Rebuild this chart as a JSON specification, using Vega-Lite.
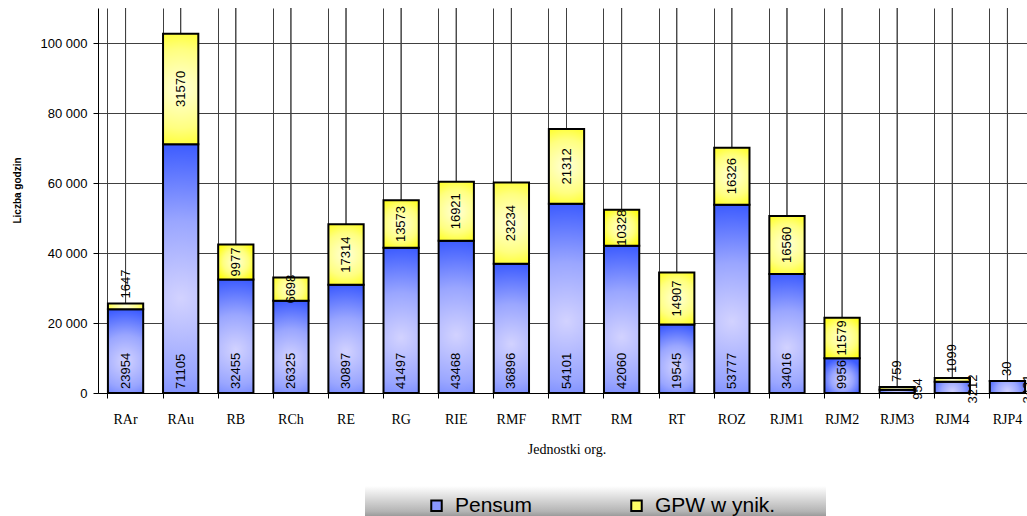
{
  "$schema": "https://vega.github.io/schema/vega-lite/v6.json",
  "width": 937,
  "height": 385,
  "autosize": {"type": "none"},
  "padding": {"left": 98, "top": 8, "right": 0, "bottom": 123},
  "background": "white",
  "config": {
    "view": {"stroke": null},
    "font": "Liberation Sans",
    "axisY": {
      "labelFont": "Liberation Sans", "labelFontSize": 13, "labelColor": "black",
      "tickColor": "black", "tickSize": 5, "labelPadding": 6,
      "domainColor": "black", "gridColor": "#404040", "gridWidth": 1,
      "titleFont": "Liberation Sans", "titleFontSize": 10, "titleFontWeight": "bold", "titleColor": "black", "titlePadding": 18, "titleY": 182
    },
    "axisX": {
      "labelFont": "Liberation Serif", "labelFontSize": 14, "labelColor": "black", "labelAngle": 0,
      "tickColor": "black", "tickSize": 5, "labelPadding": 14,
      "domainColor": "black", "gridColor": "#404040", "gridWidth": 1,
      "titleFont": "Liberation Serif", "titleFontSize": 14, "titleFontWeight": "normal", "titleColor": "black", "titlePadding": 16
    }
  },
  "data": {"values": [
    {"org": "RAr", "series": "Pensum", "order": 1, "value": 23954},
    {"org": "RAr", "series": "GPW w ynik.", "order": 2, "value": 1647},
    {"org": "RAu", "series": "Pensum", "order": 1, "value": 71105},
    {"org": "RAu", "series": "GPW w ynik.", "order": 2, "value": 31570},
    {"org": "RB", "series": "Pensum", "order": 1, "value": 32455},
    {"org": "RB", "series": "GPW w ynik.", "order": 2, "value": 9977},
    {"org": "RCh", "series": "Pensum", "order": 1, "value": 26325},
    {"org": "RCh", "series": "GPW w ynik.", "order": 2, "value": 6698},
    {"org": "RE", "series": "Pensum", "order": 1, "value": 30897},
    {"org": "RE", "series": "GPW w ynik.", "order": 2, "value": 17314},
    {"org": "RG", "series": "Pensum", "order": 1, "value": 41497},
    {"org": "RG", "series": "GPW w ynik.", "order": 2, "value": 13573},
    {"org": "RIE", "series": "Pensum", "order": 1, "value": 43468},
    {"org": "RIE", "series": "GPW w ynik.", "order": 2, "value": 16921},
    {"org": "RMF", "series": "Pensum", "order": 1, "value": 36896},
    {"org": "RMF", "series": "GPW w ynik.", "order": 2, "value": 23234},
    {"org": "RMT", "series": "Pensum", "order": 1, "value": 54101},
    {"org": "RMT", "series": "GPW w ynik.", "order": 2, "value": 21312},
    {"org": "RM", "series": "Pensum", "order": 1, "value": 42060},
    {"org": "RM", "series": "GPW w ynik.", "order": 2, "value": 10328},
    {"org": "RT", "series": "Pensum", "order": 1, "value": 19545},
    {"org": "RT", "series": "GPW w ynik.", "order": 2, "value": 14907},
    {"org": "ROZ", "series": "Pensum", "order": 1, "value": 53777},
    {"org": "ROZ", "series": "GPW w ynik.", "order": 2, "value": 16326},
    {"org": "RJM1", "series": "Pensum", "order": 1, "value": 34016},
    {"org": "RJM1", "series": "GPW w ynik.", "order": 2, "value": 16560},
    {"org": "RJM2", "series": "Pensum", "order": 1, "value": 9956},
    {"org": "RJM2", "series": "GPW w ynik.", "order": 2, "value": 11579},
    {"org": "RJM3", "series": "Pensum", "order": 1, "value": 954},
    {"org": "RJM3", "series": "GPW w ynik.", "order": 2, "value": 759},
    {"org": "RJM4", "series": "Pensum", "order": 1, "value": 3212},
    {"org": "RJM4", "series": "GPW w ynik.", "order": 2, "value": 1099},
    {"org": "RJP4", "series": "Pensum", "order": 1, "value": 3431},
    {"org": "RJP4", "series": "GPW w ynik.", "order": 2, "value": 30}
  ]},
  "transform": [
    {"stack": "value", "groupby": ["org"], "sort": [{"field": "order", "order": "ascending"}], "as": ["v0", "v1"]}
  ],
  "encoding": {
    "x": {
      "field": "org", "type": "nominal",
      "scale": {
        "domain": ["RAr", "RAu", "RB", "RCh", "RE", "RG", "RIE", "RMF", "RMT", "RM", "RT", "ROZ", "RJM1", "RJM2", "RJM3", "RJM4", "RJP4"],
        "paddingInner": 0.36, "paddingOuter": 0.18
      },
      "axis": {"title": "Jednostki org.", "grid": true, "bandPosition": 0}
    }
  },
  "layer": [
    {
      "mark": {"type": "rule", "color": "#404040", "strokeWidth": 1},
      "encoding": {}
    },
    {
      "mark": {"type": "bar"},
      "encoding": {
        "y": {
          "field": "v0", "type": "quantitative",
          "scale": {"domain": [0, 110000], "nice": false, "zero": true},
          "axis": {
            "title": "Liczba godzin", "grid": true,
            "values": [0, 20000, 40000, 60000, 80000, 100000],
            "labelExpr": "replace(format(datum.value, ','), ',', ' ')"
          }
        },
        "y2": {"field": "v1"},
        "color": {
          "field": "series", "type": "nominal",
          "scale": {"domain": ["Pensum", "GPW w ynik."], "range": ["#8a97ff", "#ffff66"]},
          "legend": {
            "orient": "none", "legendX": 267, "legendY": 478,
            "direction": "horizontal",
            "title": "\u00a0", "titleOrient": "right", "titlePadding": 42, "titleFontSize": 10,
            "labelFont": "Liberation Sans", "labelFontSize": 21, "labelColor": "black",
            "symbolType": "square", "symbolSize": 110,
            "symbolStrokeColor": "black", "symbolStrokeWidth": 2, "symbolOpacity": 1,
            "columnPadding": 41, "padding": 9, "labelOffset": 8, "symbolOffset": 52,
            "fillColor": "#cccccc",
            "encode": {
              "legend": {
                "update": {
                  "fill": {"value": {"gradient": "linear", "x1": 0, "y1": 0, "x2": 0, "y2": 1,
                    "stops": [{"offset": 0, "color": "#ffffff"}, {"offset": 0.65, "color": "#b4b4b4"}, {"offset": 1, "color": "#6a6a6a"}]}}
                }
              }
            }
          }
        }
      }
    },
    {
      "transform": [{"filter": "datum.series == 'Pensum'"}],
      "mark": {
        "type": "bar", "stroke": "black", "strokeWidth": 2,
        "color": {
          "gradient": "radial", "x1": 0.5, "y1": 0.62, "r1": 0, "x2": 0.5, "y2": 0.62, "r2": 0.62,
          "stops": [
            {"offset": 0, "color": "#d2d2ff"},
            {"offset": 0.5, "color": "#9aa6ff"},
            {"offset": 1, "color": "#3d5cff"}
          ]
        }
      },
      "encoding": {
        "y": {"field": "v0", "type": "quantitative"},
        "y2": {"field": "v1"}
      }
    },
    {
      "transform": [{"filter": "datum.series != 'Pensum'"}],
      "mark": {
        "type": "bar", "stroke": "black", "strokeWidth": 2,
        "color": {
          "gradient": "radial", "x1": 0.5, "y1": 0.5, "r1": 0, "x2": 0.5, "y2": 0.5, "r2": 0.65,
          "stops": [
            {"offset": 0, "color": "#ffffd8"},
            {"offset": 0.55, "color": "#ffff80"},
            {"offset": 1, "color": "#ffff00"}
          ]
        }
      },
      "encoding": {
        "y": {"field": "v0", "type": "quantitative"},
        "y2": {"field": "v1"}
      }
    },
    {
      "transform": [{"filter": "datum.series == 'Pensum' && datum.value >= 5000"}],
      "mark": {"type": "text", "angle": 270, "align": "left", "baseline": "middle", "dx": 4, "fontSize": 13, "font": "Liberation Sans", "color": "black"},
      "encoding": {
        "y": {"field": "v0", "type": "quantitative"},
        "text": {"field": "value", "type": "nominal"}
      }
    },
    {
      "transform": [{"filter": "datum.series == 'Pensum' && datum.value < 5000"}],
      "mark": {"type": "text", "angle": 270, "align": "center", "baseline": "middle", "dx": 4, "dy": 21, "fontSize": 13, "font": "Liberation Sans", "color": "black"},
      "encoding": {
        "y": {"field": "v0", "type": "quantitative"},
        "text": {"field": "value", "type": "nominal"}
      }
    },
    {
      "transform": [
        {"filter": "datum.series != 'Pensum' && datum.value >= 3000"},
        {"fold": ["v0", "v1"], "as": ["edge", "pos"]},
        {"aggregate": [{"op": "mean", "field": "pos", "as": "mid"}], "groupby": ["org", "value"]}
      ],
      "mark": {"type": "text", "angle": 270, "align": "center", "baseline": "middle", "fontSize": 13, "font": "Liberation Sans", "color": "black"},
      "encoding": {
        "y": {"field": "mid", "type": "quantitative"},
        "text": {"field": "value", "type": "nominal"}
      }
    },
    {
      "transform": [{"filter": "datum.series != 'Pensum' && datum.value < 3000"}],
      "mark": {"type": "text", "angle": 270, "align": "left", "baseline": "middle", "dx": 5, "fontSize": 13, "font": "Liberation Sans", "color": "black"},
      "encoding": {
        "y": {"field": "v1", "type": "quantitative"},
        "text": {"field": "value", "type": "nominal"}
      }
    }
  ]
}
